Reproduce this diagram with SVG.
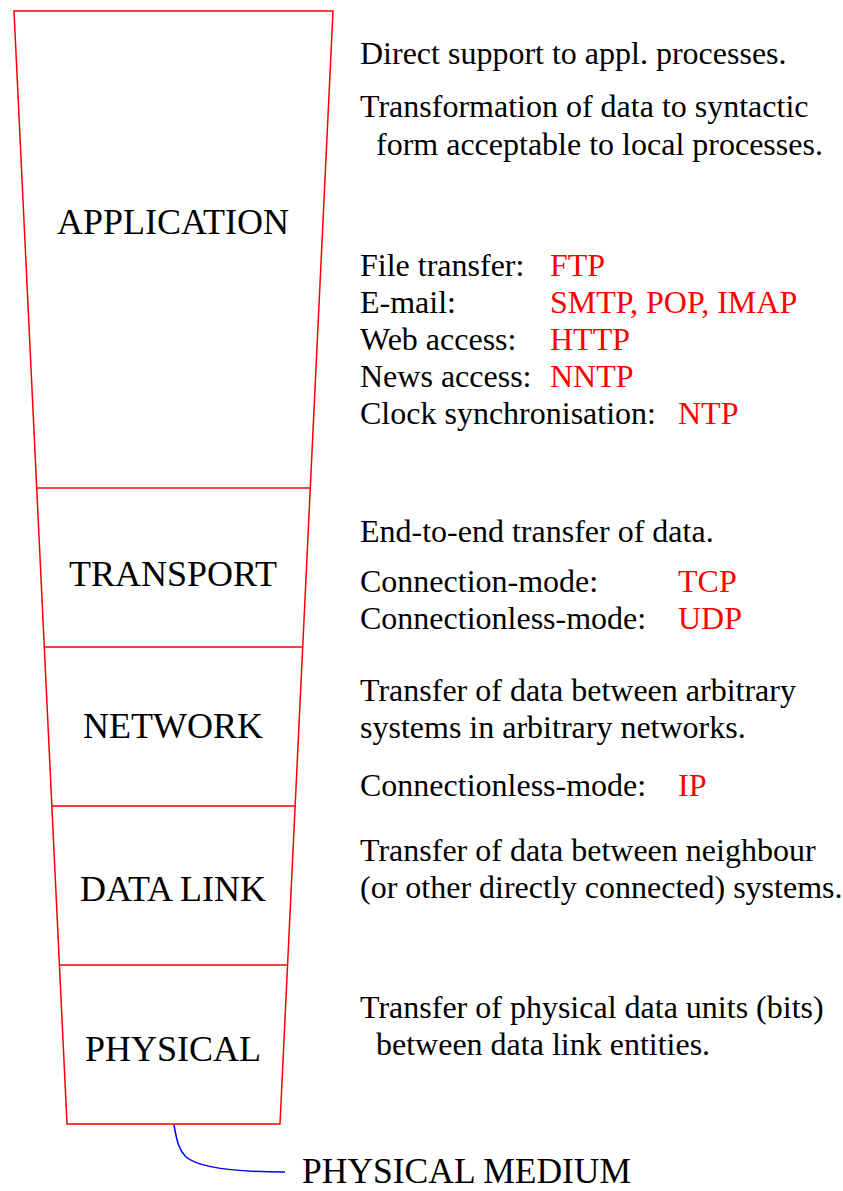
<svg xmlns="http://www.w3.org/2000/svg" width="843" height="1191" viewBox="0 0 843 1191">
<style>
text{font-family:"Liberation Serif","Times New Roman",serif;font-size:32px;fill:#000}
.lbl{text-anchor:middle;font-size:36px}
.big{font-size:35.5px}
.r{fill:#ff0000}
.frame{fill:none;stroke:#ff0000;stroke-width:1.5}
.conn{fill:none;stroke:#0000ff;stroke-width:1.5}
</style>
<rect width="843" height="1191" fill="#fff"/>
<g id="stack">
<path class="frame" d="M14,11 L333,11 L280,1124 L67,1124 Z"/>
</g>
<g id="application">
<text class="lbl" x="173" y="234">APPLICATION</text>
</g>
<g id="transport">
<line class="frame" x1="36.7" y1="488" x2="310.3" y2="488"/>
<text class="lbl" x="173" y="586">TRANSPORT</text>
</g>
<g id="network">
<line class="frame" x1="44.3" y1="647" x2="302.7" y2="647"/>
<text class="lbl" x="173" y="738">NETWORK</text>
</g>
<g id="datalink">
<line class="frame" x1="51.9" y1="806" x2="295.1" y2="806"/>
<text class="lbl" x="173" y="901">DATA LINK</text>
</g>
<g id="physical">
<line class="frame" x1="59.4" y1="965" x2="287.6" y2="965"/>
<text class="lbl" x="173" y="1061">PHYSICAL</text>
</g>
<g id="medium">
<text class="big" x="302" y="1183">PHYSICAL MEDIUM</text>
</g>
<g id="connectors">
<path class="conn" d="M174,1125 C177,1142 179,1150 186,1157 C198,1167 230,1172 285,1172"/>
</g>
<g id="descriptions">
<text x="360" y="64">Direct support to appl. processes.</text>
<text x="360" y="117">Transformation of data to syntactic</text>
<text x="376" y="155">form acceptable to local processes.</text>
<text x="360" y="276">File transfer:</text><text class="r" x="550" y="276">FTP</text>
<text x="360" y="313">E-mail:</text><text class="r" x="550" y="313">SMTP, POP, IMAP</text>
<text x="360" y="350">Web access:</text><text class="r" x="550" y="350">HTTP</text>
<text x="360" y="387">News access:</text><text class="r" x="550" y="387">NNTP</text>
<text x="360" y="424">Clock synchronisation:</text><text class="r" x="678" y="424">NTP</text>
<text x="360" y="542">End-to-end transfer of data.</text>
<text x="360" y="592">Connection-mode:</text><text class="r" x="678" y="592">TCP</text>
<text x="360" y="629">Connectionless-mode:</text><text class="r" x="678" y="629">UDP</text>
<text x="360" y="701">Transfer of data between arbitrary</text>
<text x="360" y="738">systems in arbitrary networks.</text>
<text x="360" y="796">Connectionless-mode:</text><text class="r" x="678" y="796">IP</text>
<text x="360" y="861">Transfer of data between neighbour</text>
<text x="360" y="898">(or other directly connected) systems.</text>
<text x="360" y="1018">Transfer of physical data units (bits)</text>
<text x="376" y="1055">between data link entities.</text>
</g>
</svg>
